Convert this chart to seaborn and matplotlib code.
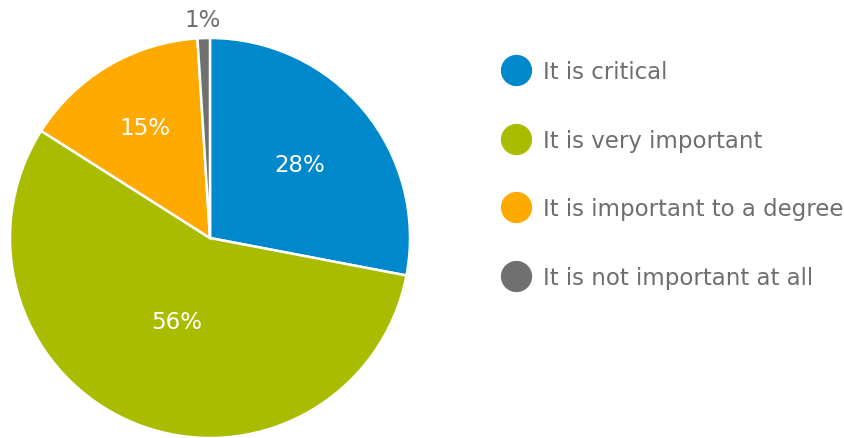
import matplotlib
matplotlib.use("Agg")
import matplotlib.pyplot as plt
from matplotlib.lines import Line2D
import seaborn as sns
import numpy as np

sns.set_theme(style="white")
plt.rcParams["font.family"] = ["DejaVu Sans"]

# Survey answers and their shares (percent)
categories = ["It is critical", "It is very important",
              "It is important to a degree", "It is not important at all"]
shares = [28, 56, 15, 1]
colors = ["#0088CC", "#AABC00", "#FFAA00", "#707070"]
label_colors = ["white", "white", "white", "#6E6E6E"]
label_radius = [0.58, 0.45, 0.64, 1.095]
text_gray = "#6E6E6E"

fig = plt.figure(figsize=(8.45, 4.39), dpi=100)
ax = fig.add_axes([10 / 845, 0, 400 / 845, 400 / 439])

wedges, texts, autotexts = ax.pie(
    shares, colors=colors, startangle=90, counterclock=False,
    autopct=lambda p: f"{p:.0f}%", pctdistance=0.6, radius=1.0,
    wedgeprops=dict(edgecolor="white", linewidth=1.8),
    textprops=dict(fontsize=16.5, color="white"),
)
ax.set_xlim(-1, 1)
ax.set_ylim(-1, 1)
ax.set_aspect("equal")

# Place each percentage along its wedge's mid angle
for w, t, r, c in zip(wedges, autotexts, label_radius, label_colors):
    mid = np.deg2rad((w.theta1 + w.theta2) / 2)
    t.set_position((r * np.cos(mid), r * np.sin(mid)))
    t.set_color(c)
    t.set_ha("center")
    t.set_va("center")
    t.set_clip_on(False)

handles = [Line2D([0], [0], marker="o", linestyle="none", markersize=21.5,
                  markerfacecolor=c, markeredgecolor=c) for c in colors]
leg = fig.legend(handles, categories, loc="upper left",
                 bbox_to_anchor=(486 / 845, 1 - 50 / 439),
                 frameon=False, fontsize=16.5, labelspacing=1.98,
                 handletextpad=0.38, handlelength=1.6, borderpad=0)
for txt in leg.get_texts():
    txt.set_color(text_gray)

fig.savefig("out.png", dpi=100)
